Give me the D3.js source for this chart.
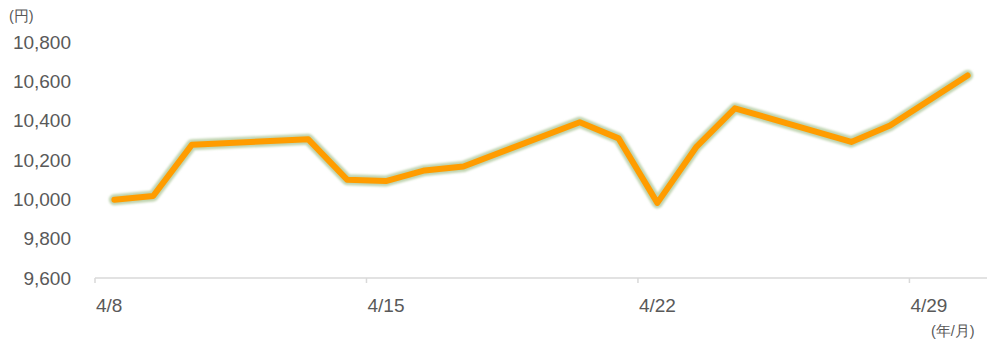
<!DOCTYPE html>
<html>
<head>
    <meta charset="utf-8">
    <title>Price chart</title>
    <style>
        body {
            margin: 0;
            background: #ffffff;
        }
        svg {
            display: block;
            font-family: "Liberation Sans", Arial, sans-serif;
        }
        .axis-label {
            fill: #595959;
            font-size: 19px;
        }
        .unit {
            fill: #595959;
            font-size: 14.5px;
        }
    </style>
    <script src="https://cdn.jsdelivr.net/npm/d3@7"></script>
</head>
<body>
<script>
    // data (business days, April 2020)
    const dates = ["2020-04-08", "2020-04-09", "2020-04-10", "2020-04-13", "2020-04-14",
        "2020-04-15", "2020-04-16", "2020-04-17", "2020-04-20", "2020-04-21",
        "2020-04-22", "2020-04-23", "2020-04-24", "2020-04-27", "2020-04-28", "2020-04-30"];
    const prices = [9998, 10017, 10278, 10305, 10100,
        10093, 10147, 10167, 10392, 10310,
        9982, 10265, 10463, 10292, 10375, 10630];
    const yTicks = [9600, 9800, 10000, 10200, 10400, 10600, 10800];
    const xTicks = ["2020-04-08", "2020-04-15", "2020-04-22", "2020-04-29"];

    const width = 1003,
        height = 343;

    const day = 24 * 3600 * 1000;
    const parse = d3.utcParse("%Y-%m-%d");

    const data = dates.map((d, i) => ({date: new Date(parse(d).getTime() + day / 2), value: prices[i]}));

    const x = d3.scaleUtc()
        .domain([parse("2020-04-08"), parse("2020-05-01")])
        .range([95, 987]);

    const y = d3.scaleLinear()
        .domain([9600, 10800])
        .range([278, 42]);

    const svg = d3.select("body").append("svg")
        .attr("width", width)
        .attr("height", height);

    const defs = svg.append("defs");
    defs.append("filter")
        .attr("id", "glow")
        .attr("x", "-5%").attr("y", "-20%")
        .attr("width", "110%").attr("height", "140%")
        .append("feGaussianBlur")
        .attr("stdDeviation", 0.8);

    // y labels (no axis line)
    svg.append("g")
        .selectAll("text")
        .data(yTicks)
        .enter().append("text")
        .attr("class", "axis-label")
        .attr("x", 71)
        .attr("y", d => y(d))
        .attr("dy", "0.35em")
        .attr("text-anchor", "end")
        .text(d => d3.format(",")(d));

    // x axis
    const xAxis = svg.append("g").attr("transform", "translate(0,278)");
    xAxis.append("line")
        .attr("x1", x.range()[0]).attr("x2", x.range()[1])
        .attr("stroke", "#d9d9d9")
        .attr("stroke-width", 1.5);
    xAxis.selectAll("line.tick")
        .data(xTicks)
        .enter().append("line")
        .attr("class", "tick")
        .attr("x1", d => x(parse(d))).attr("x2", d => x(parse(d)))
        .attr("y1", 0).attr("y2", 5)
        .attr("stroke", "#d9d9d9")
        .attr("stroke-width", 1.5);
    xAxis.selectAll("text")
        .data(xTicks)
        .enter().append("text")
        .attr("class", "axis-label")
        .attr("x", d => x(parse(d)) + 1)
        .attr("y", 27)
        .attr("dy", "0.35em")
        .text(d => d3.utcFormat("%-m/%-d")(parse(d)));

    // unit labels
    svg.append("text")
        .attr("class", "unit")
        .attr("x", 9)
        .attr("y", 16)
        .attr("dy", "0.35em")
        .text("(円)");
    svg.append("text")
        .attr("class", "unit")
        .attr("x", 931)
        .attr("y", 331)
        .attr("dy", "0.35em")
        .text("(年/月)");

    const line = d3.line()
        .x(d => x(d.date))
        .y(d => y(d.value));

    // glow under the line
    svg.append("path")
        .datum(data)
        .attr("d", line)
        .attr("fill", "none")
        .attr("stroke", "#c0d4b0")
        .attr("stroke-width", 11)
        .attr("stroke-linejoin", "round")
        .attr("stroke-linecap", "round")
        .attr("filter", "url(#glow)");

    svg.append("path")
        .datum(data)
        .attr("d", line)
        .attr("fill", "none")
        .attr("stroke", "#ff9c00")
        .attr("stroke-width", 6)
        .attr("stroke-linejoin", "round")
        .attr("stroke-linecap", "round");
</script>
</body>
</html>
